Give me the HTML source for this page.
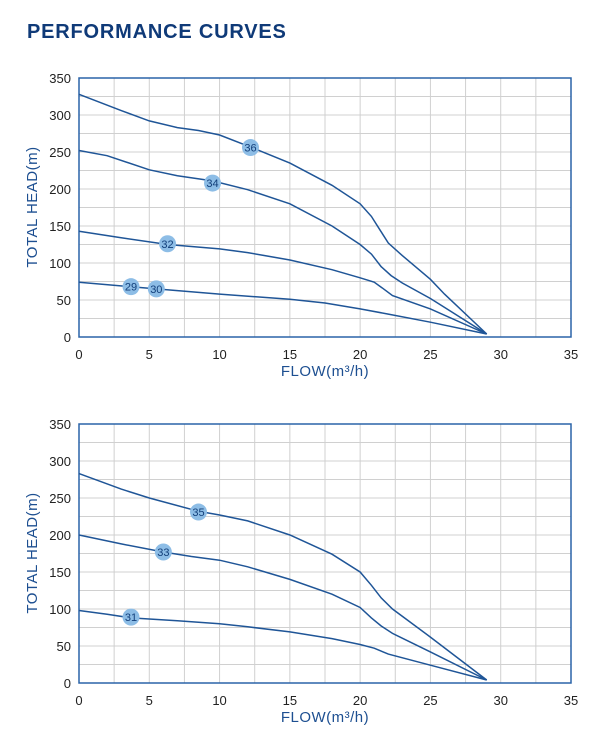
<!DOCTYPE html>
<html><head><meta charset="utf-8"><style>
body{margin:0;background:#fff;width:600px;height:747px;overflow:hidden}
svg{display:block}
.t{font-family:"Liberation Sans",sans-serif;font-size:13px;fill:#222}
.ax{font-family:"Liberation Sans",sans-serif;font-size:15px;fill:#1d4f91;letter-spacing:0.5px}
.c{fill:none;stroke:#1f5597;stroke-width:1.5}
.g{stroke:#d0d0d0;stroke-width:1}
.lb{font-family:"Liberation Sans",sans-serif;font-size:11px;fill:#123f7a;text-anchor:middle}
</style></head><body>
<svg width="600" height="747" xmlns="http://www.w3.org/2000/svg">
<text x="27" y="38" style="font-family:'Liberation Sans',sans-serif;font-weight:bold;font-size:20px;fill:#0f3a78;letter-spacing:0.8px">PERFORMANCE CURVES</text>
<g id="c1"></g>
</svg>
<script>
function chart(y0,curves,labels,xt,yt){
 var s='';var X=function(q){return 79+q*14.057};var Y=function(h){return y0-h*0.74};
 for(var i=1;i<14;i++){s+='<line class="g" x1="'+X(i*2.5)+'" y1="'+Y(0)+'" x2="'+X(i*2.5)+'" y2="'+Y(350)+'"/>';
  s+='<line class="g" x1="79" y1="'+Y(i*25)+'" x2="571" y2="'+Y(i*25)+'"/>';}
 s+='<rect x="79" y="'+Y(350)+'" width="492" height="259" fill="none" stroke="#2a63a8" stroke-width="1.5"/>';
 for(var h=0;h<=350;h+=50)s+='<text class="t" x="71" y="'+(Y(h)+5)+'" text-anchor="end">'+h+'</text>';
 for(var q=0;q<=35;q+=5)s+='<text class="t" x="'+X(q)+'" y="'+(y0+22)+'" text-anchor="middle">'+q+'</text>';
 curves.forEach(function(c){var d='';for(var i=0;i<c.length;i+=2)d+=(i?'L':'M')+X(c[i]).toFixed(1)+','+Y(c[i+1]).toFixed(1);s+='<path class="c" d="'+d+'"/>';});
 labels.forEach(function(l){s+='<circle cx="'+X(l[0])+'" cy="'+Y(l[1])+'" r="8.5" fill="#8dbde6"/><text class="lb" x="'+X(l[0])+'" y="'+(Y(l[1])+4)+'">'+l[2]+'</text>';});
 s+='<text class="ax" x="325" y="'+xt+'" text-anchor="middle">FLOW(m³/h)</text>';
 s+='<text class="ax" transform="translate(37,'+yt+') rotate(-90)" text-anchor="middle">TOTAL HEAD(m)</text>';
 return s;}
var a=chart(337,[
[0,328,3,306,5,292,7,283,8.5,279,10,273,12.3,256,15,235,18,205,20,180,20.8,163,21.4,145,22,127,23,110,25,78,26,58,29,4],
[0,252,2,245,5,226,7,218,9.5,211,12,199,15,180,18,150,20,125,20.8,112,21.5,95,22.2,83,23,73,25,52,26,40,29,4],
[0,143,3,134,6.3,125,10,119,12,114,15,104,18,91,20,80,21,74,21.6,66,22.3,56,25,38,29,4],
[0,74,3.7,68,5.5,65,10,58,15,51,17.5,46,20,38,22,31,25,20,29,4]],
[[12.2,256,'36'],[9.5,208,'34'],[6.3,126,'32'],[3.7,68,'29'],[5.5,65,'30']],376,207);
var b=chart(683,[
[0,283,3,262,5,250,8.5,232,10,227,12,219,15,200,18,174,20,150,20.8,132,21.5,115,22.3,100,25,62,29,4],
[0,200,3,188,6,177,8,171,10,166,12,157,15,140,18,120,20,102,20.8,88,21.5,77,22.3,67,25,42,29,4],
[0,98,2,93,3.7,88,7,84,10,80,12,76,15,69,18,60,20,52,21,47,22,39,25,24,29,4]],
[[8.5,231,'35'],[6,177,'33'],[3.7,89,'31']],722,553);
document.getElementById('c1').innerHTML=a+b;
</script>
</body></html>
